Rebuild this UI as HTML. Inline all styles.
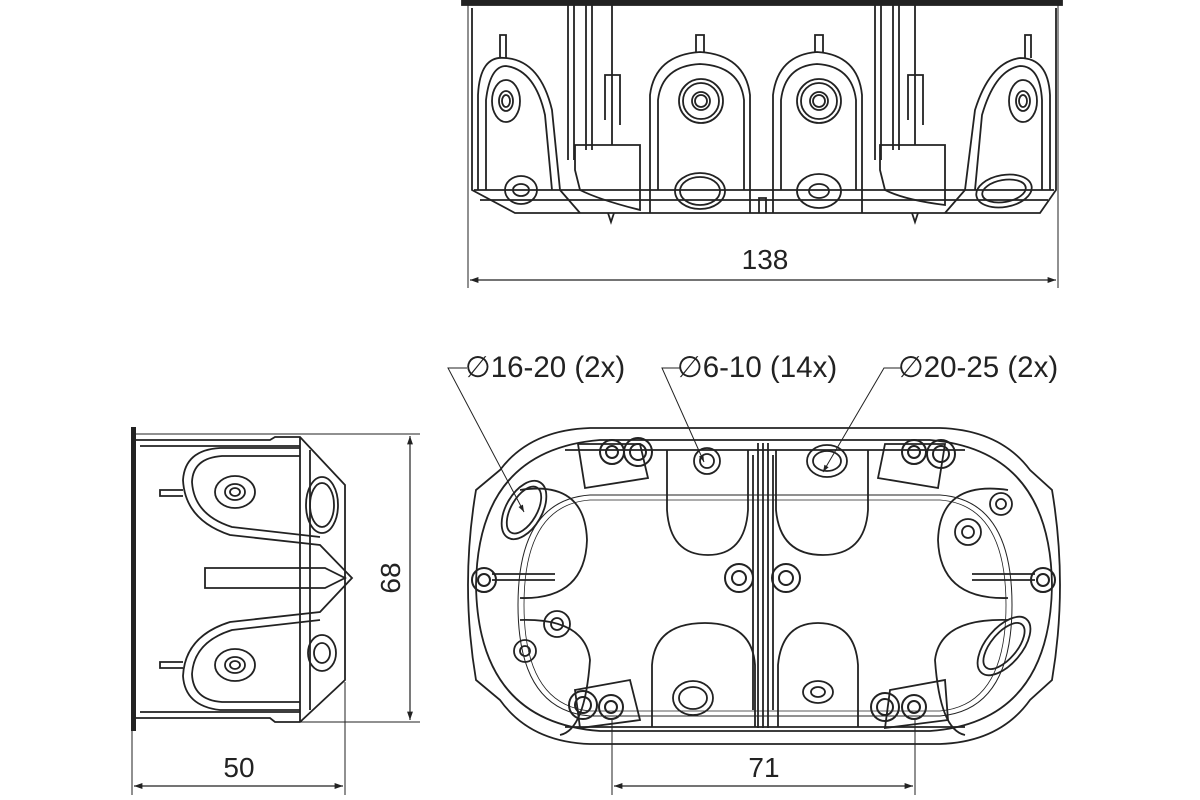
<!DOCTYPE html>
<html><head><meta charset="utf-8"><style>
html,body{margin:0;padding:0;background:#fff}
svg{display:block}
text{font-family:"Liberation Sans",sans-serif;font-size:28px;fill:#222;stroke:none}
text.lb{font-size:29.5px}
</style></head><body>
<svg width="1200" height="800" viewBox="0 0 1200 800" fill="none" stroke="#222" stroke-width="1.8">
<defs>
<marker id="ar" viewBox="0 0 10 10" refX="10" refY="5" markerWidth="9" markerHeight="7" orient="auto-start-reverse"><path d="M0,1.5L10,5L0,8.5z" fill="#222" stroke="none"/></marker>
</defs>

<!-- ===== TOP VIEW ===== -->
<rect x="462" y="0" width="600" height="5" fill="#222"/>
<line x1="468" y1="5" x2="468" y2="288" stroke-width="1"/>
<line x1="1058" y1="5" x2="1058" y2="288" stroke-width="1"/>
<path d="M472 8 L472 190 L515 213 L1040 213 L1056 190 L1056 8"/>
<path d="M474 190 L1054 190 M480 200 L1048 200"/>
<path d="M478 190 L478 95 Q480 55 505 58 Q540 60 552 110 L560 190 L580 213"/>
<path d="M486 190 L486 100 Q490 66 506 66 Q535 70 545 115 L552 190"/>
<path d="M500 58 L500 35 L506 35 L506 58"/>
<path d="M650 213 L650 95 Q655 55 700 52 Q745 55 750 95 L750 213"/>
<path d="M658 190 L658 100 Q662 66 700 64 Q740 66 744 100 L744 190"/>
<path d="M696 52 L696 35 L704 35 L704 52"/>
<path d="M773 213 L773 95 Q778 55 817 52 Q858 55 862 95 L862 213"/>
<path d="M781 190 L781 100 Q785 66 817 64 Q852 66 856 100 L856 190"/>
<path d="M815 52 L815 35 L823 35 L823 52"/>
<path d="M1050 190 L1050 95 Q1048 58 1020 58 Q990 62 975 110 L965 190 L945 213"/>
<path d="M1042 190 L1042 100 Q1040 66 1020 66 Q995 70 982 115 L975 190"/>
<path d="M1025 58 L1025 35 L1031 35 L1031 58"/>
<path d="M568 5 L568 160 M574 5 L574 160 M586 5 L586 150 M592 5 L592 150 M612 5 L612 145"/>
<path d="M575 145 L640 145 L640 210 Q600 200 580 190 L575 170 Z"/>
<path d="M605 120 L605 75 L620 75 L620 125"/>
<path d="M875 5 L875 160 M881 5 L881 160 M893 5 L893 150 M899 5 L899 150 M915 5 L915 145"/>
<path d="M880 145 L945 145 L945 205 Q905 200 885 190 L880 170 Z"/>
<path d="M908 120 L908 75 L923 75 L923 125"/>
<path d="M608 213 L611 222 L614 213 M912 213 L915 222 L918 213 M759 213 L759 198 L766 198 L766 213"/>
<g>
<ellipse cx="506" cy="101" rx="14" ry="21"/><ellipse cx="506" cy="101" rx="7" ry="10"/><ellipse cx="506" cy="101" rx="4" ry="6"/>
<circle cx="701" cy="101" r="22"/><circle cx="701" cy="101" r="18"/><circle cx="701" cy="101" r="9"/><circle cx="701" cy="101" r="6"/>
<circle cx="819" cy="101" r="22"/><circle cx="819" cy="101" r="18"/><circle cx="819" cy="101" r="9"/><circle cx="819" cy="101" r="6"/>
<ellipse cx="1023" cy="101" rx="14" ry="21"/><ellipse cx="1023" cy="101" rx="7" ry="10"/><ellipse cx="1023" cy="101" rx="4" ry="6"/>
<ellipse cx="521" cy="190" rx="16" ry="14"/><ellipse cx="521" cy="190" rx="8" ry="6"/>
<ellipse cx="700" cy="191" rx="25" ry="18"/><ellipse cx="700" cy="191" rx="20" ry="14"/>
<ellipse cx="819" cy="191" rx="22" ry="17"/><ellipse cx="819" cy="191" rx="10" ry="7"/>
<ellipse cx="1004" cy="191" rx="28" ry="16" transform="rotate(-10 1004 191)"/><ellipse cx="1004" cy="191" rx="22" ry="11" transform="rotate(-10 1004 191)"/>
</g>
<line x1="470" y1="280" x2="1056" y2="280" stroke-width="1.2" marker-start="url(#ar)" marker-end="url(#ar)"/>
<text x="765" y="269" text-anchor="middle">138</text>

<!-- ===== SIDE VIEW ===== -->
<rect x="131" y="427" width="5" height="304" fill="#222" stroke="none"/>
<line x1="136" y1="434" x2="420" y2="434" stroke-width="1"/>
<line x1="300" y1="722" x2="420" y2="722" stroke-width="1"/>
<path d="M136 440 L270 440 L275 437 L300 437 L345 485 L345 680 L300 722 L275 722 L270 718 L136 718"/>
<path d="M140 446 L300 446 M140 712 L300 712 M300 437 L300 722 M310 450 L310 710"/>
<path d="M300 448 L220 448 Q185 450 183 480 Q185 520 230 535 L320 545 L352 578 L320 612 L230 622 Q185 636 183 676 Q185 706 220 710 L300 710"/>
<path d="M300 456 L222 456 Q193 458 192 482 Q194 515 232 527 L320 537"/>
<path d="M320 620 L232 630 Q194 642 192 674 Q193 700 222 702 L300 702"/>
<path d="M183 490 L160 490 L160 496 L183 496 M183 662 L160 662 L160 668 L183 668"/>
<path d="M205 568 L325 568 L345 578 L325 588 L205 588 Z"/>
<ellipse cx="235" cy="492" rx="20" ry="16"/><ellipse cx="235" cy="492" rx="10" ry="8"/><ellipse cx="235" cy="492" rx="5" ry="4"/>
<ellipse cx="235" cy="665" rx="20" ry="16"/><ellipse cx="235" cy="665" rx="10" ry="8"/><ellipse cx="235" cy="665" rx="5" ry="4"/>
<ellipse cx="322" cy="505" rx="16" ry="28"/><ellipse cx="322" cy="505" rx="12" ry="22"/>
<ellipse cx="322" cy="653" rx="14" ry="18"/><ellipse cx="322" cy="653" rx="8" ry="10"/>
<line x1="132" y1="731" x2="132" y2="795" stroke-width="1"/>
<line x1="345" y1="682" x2="345" y2="795" stroke-width="1"/>
<line x1="134" y1="786" x2="343" y2="786" stroke-width="1.2" marker-start="url(#ar)" marker-end="url(#ar)"/>
<text x="239" y="777" text-anchor="middle">50</text>
<line x1="410" y1="436" x2="410" y2="720" stroke-width="1.2" marker-start="url(#ar)" marker-end="url(#ar)"/>
<text x="403" y="578" text-anchor="middle" transform="rotate(-90 403 578)" dy="-3">68</text>

<!-- ===== PLAN VIEW ===== -->
<path d="M590 428 L940 428 Q1000 430 1030 470 L1052 490 Q1068 585 1052 680 L1030 700 Q1000 742 940 744 L590 744 Q530 742 500 700 L476 680 Q460 585 476 490 L500 470 Q530 430 590 428 Z"/>
<path d="M600 440 L930 440 Q1050 450 1052 585 Q1050 722 930 731 L600 731 Q478 722 476 585 Q478 450 600 440 Z"/>
<path d="M590 495 L940 495 Q1012 500 1012 605 Q1012 710 940 716 L590 716 Q518 710 518 605 Q518 500 590 495 Z" stroke-width="1"/>
<path d="M590 500 L940 500 Q1006 505 1006 605 Q1006 705 940 711 L590 711 Q524 705 524 605 Q524 505 590 500 Z" stroke-width="0.8"/>
<path d="M565 450 L965 450 M565 727 L965 727"/>
<path d="M758 443 L758 728 M763 443 L763 728 M768 443 L768 728 M753 455 L753 710 M773 455 L773 710"/>
<path d="M667 450 L667 510 Q670 555 708 555 Q745 555 748 510 L748 450"/>
<path d="M776 450 L776 510 Q780 555 823 555 Q865 555 868 510 L868 450"/>
<path d="M652 727 L652 665 Q655 623 705 623 Q752 623 755 665 L755 727"/>
<path d="M778 727 L778 665 Q782 623 818 623 Q855 623 858 665 L858 727"/>
<path d="M520 490 Q585 480 587 540 Q585 600 520 598 M520 620 Q585 618 590 660 Q585 730 560 735"/>
<path d="M1008 490 Q940 480 938 540 Q940 600 1008 598 M1008 620 Q940 618 935 660 Q940 730 965 735"/>
<path d="M578 444 L640 444 L648 478 L585 488 Z M885 444 L945 444 L938 488 L878 478 Z"/>
<path d="M575 690 L630 680 L640 720 L580 728 Z M890 690 L945 680 L948 720 L885 728 Z"/>
<line x1="492" y1="580" x2="555" y2="580"/><line x1="492" y1="574" x2="555" y2="574"/>
<line x1="972" y1="580" x2="1035" y2="580"/><line x1="972" y1="574" x2="1035" y2="574"/>
<g stroke-width="2">
<circle cx="612" cy="452" r="12"/><circle cx="612" cy="452" r="6"/>
<circle cx="638" cy="452" r="14"/><circle cx="638" cy="452" r="8"/>
<circle cx="914" cy="452" r="12"/><circle cx="914" cy="452" r="6"/>
<circle cx="941" cy="454" r="14"/><circle cx="941" cy="454" r="8"/>
<circle cx="583" cy="705" r="14"/><circle cx="583" cy="705" r="8"/>
<circle cx="611" cy="707" r="12"/><circle cx="611" cy="707" r="6"/>
<circle cx="885" cy="707" r="14"/><circle cx="885" cy="707" r="8"/>
<circle cx="914" cy="707" r="12"/><circle cx="914" cy="707" r="6"/>
<circle cx="484" cy="580" r="12"/><circle cx="484" cy="580" r="6"/>
<circle cx="1043" cy="580" r="12"/><circle cx="1043" cy="580" r="6"/>
<circle cx="739" cy="578" r="14"/><circle cx="739" cy="578" r="7"/>
<circle cx="786" cy="578" r="14"/><circle cx="786" cy="578" r="7"/>
</g>
<circle cx="707" cy="461" r="13"/><circle cx="707" cy="461" r="7"/>
<ellipse cx="827" cy="461" rx="20" ry="16"/><ellipse cx="827" cy="461" rx="14" ry="10"/>
<ellipse cx="693" cy="698" rx="20" ry="17"/><ellipse cx="693" cy="698" rx="14" ry="11"/>
<ellipse cx="818" cy="692" rx="15" ry="11"/><ellipse cx="818" cy="692" rx="7" ry="5"/>
<ellipse cx="524" cy="510" rx="18" ry="32" transform="rotate(30 524 510)"/><ellipse cx="524" cy="510" rx="13" ry="26" transform="rotate(30 524 510)"/>
<ellipse cx="1004" cy="646" rx="18" ry="35" transform="rotate(40 1004 646)"/><ellipse cx="1004" cy="646" rx="13" ry="28" transform="rotate(40 1004 646)"/>
<circle cx="557" cy="624" r="13"/><circle cx="557" cy="624" r="6"/>
<circle cx="525" cy="651" r="11"/><circle cx="525" cy="651" r="5"/>
<circle cx="968" cy="532" r="13"/><circle cx="968" cy="532" r="6"/>
<circle cx="1001" cy="504" r="11"/><circle cx="1001" cy="504" r="5"/>
<path d="M467 368 L448 368 L524 512" stroke-width="1" marker-end="url(#ar)"/>
<path d="M680 368 L662 368 L704 462" stroke-width="1" marker-end="url(#ar)"/>
<path d="M902 368 L884 368 L823 472" stroke-width="1" marker-end="url(#ar)"/>
<text class="lb" x="465" y="377">∅16-20 (2x)</text>
<text class="lb" x="677" y="377">∅6-10 (14x)</text>
<text class="lb" x="898" y="377">∅20-25 (2x)</text>
<line x1="612" y1="720" x2="612" y2="795" stroke-width="1"/>
<line x1="915" y1="720" x2="915" y2="795" stroke-width="1"/>
<line x1="614" y1="786" x2="913" y2="786" stroke-width="1.2" marker-start="url(#ar)" marker-end="url(#ar)"/>
<text x="764" y="777" text-anchor="middle">71</text>
</svg>
</body></html>
